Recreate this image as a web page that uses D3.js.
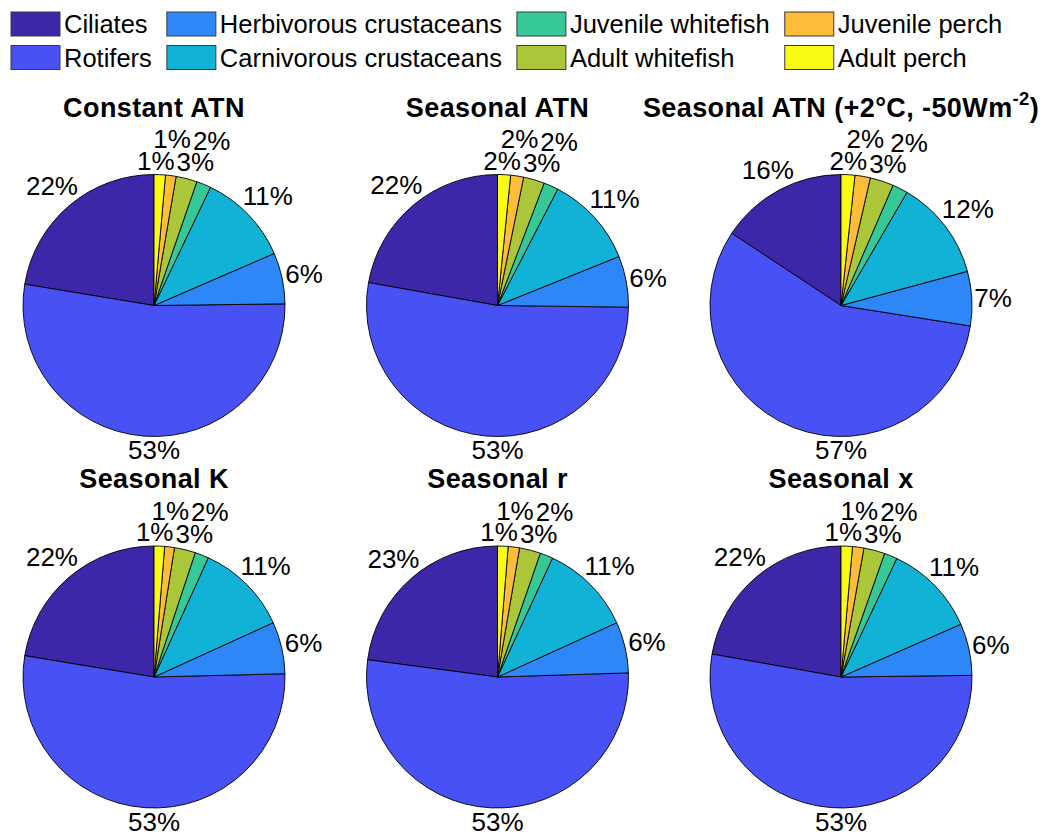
<!DOCTYPE html>
<html>
<head>
<meta charset="utf-8">
<script src="https://cdn.jsdelivr.net/npm/d3@7"></script>
<style>
  body { margin: 0; background: #fff; }
  svg { display: block; }
  text { font-family: "Liberation Sans", Arial, Helvetica, sans-serif; fill: #000; }
</style>
</head>
<body>
<svg id="chart" width="1052" height="836"></svg>
<script>
// Food-web groups, in pie order (counter-clockwise from 12 o'clock)
const groups = ["Ciliates", "Rotifers", "Herbivorous crustaceans", "Carnivorous crustaceans",
                "Juvenile whitefish", "Adult whitefish", "Juvenile perch", "Adult perch"];
const groupColors = ["#3e26a8", "#4852f4", "#2d87f7", "#12b1d6", "#37c897", "#abc739", "#febd38", "#f9fb15"];

// Scenario titles (TeX-style superscript in ^{...})
const scenarioTitles = ["Constant ATN", "Seasonal ATN", "Seasonal ATN (+2°C, -50Wm^{-2})",
                        "Seasonal K", "Seasonal r", "Seasonal x"];

// Share of total biomass (%) per group for each scenario
const constantATN     = [22.4, 52.8, 6.3, 11.4, 1.8, 2.6, 1.3, 1.4];
const seasonalATN     = [22.2, 52.6, 6.3, 11.3, 1.8, 2.6, 1.6, 1.6];
const seasonalATNWarm = [15.7, 56.8, 6.7, 12.4, 1.9, 2.9, 1.9, 1.7];
const seasonalK       = [22.4, 53.0, 6.4, 11.4, 1.7, 2.6, 1.2, 1.3];
const seasonalR       = [22.9, 52.6, 6.3, 11.3, 1.6, 2.6, 1.4, 1.3];
const seasonalX       = [22.2, 53.0, 6.4, 11.4, 1.6, 2.6, 1.4, 1.4];

const scenarioValues = [constantATN, seasonalATN, seasonalATNWarm, seasonalK, seasonalR, seasonalX];

// ---- layout ----
const W = 1052, H = 836;
const radius = 131;
const grid = { x0: 154, dx: 343.5, y0: 305.5, dy: 371.5, cols: 3 };
const labelFont = 26, legendFont = 25.5, titleFont = 27;

const svg = d3.select("#chart");
svg.append("rect").attr("width", W).attr("height", H).attr("fill", "#fff");

const color = d3.scaleOrdinal().domain(groups).range(groupColors);

// ---- legend: 4 columns x 2 rows ----
const legend = svg.append("g").attr("class", "legend");
const box = { w: 49, h: 24, x0: 11, y0: 12, rowPitch: 33.5, textGap: 4, colGap: 15 };
let colX = box.x0;
for (let c = 0; c < 4; c++) {
  let maxW = 0;
  for (let rr = 0; rr < 2; rr++) {
    const i = c * 2 + rr;
    const y = box.y0 + rr * box.rowPitch;
    legend.append("rect")
      .attr("x", colX).attr("y", y).attr("width", box.w).attr("height", box.h)
      .attr("fill", color(groups[i])).attr("stroke", "#3a3a3a").attr("stroke-width", 1);
    const t = legend.append("text")
      .attr("x", colX + box.w + box.textGap)
      .attr("y", y + box.h / 2 + 0.36 * legendFont)
      .attr("font-size", legendFont)
      .text(groups[i]);
    maxW = Math.max(maxW, t.node().getComputedTextLength());
  }
  colX += box.w + box.textGap + maxW + box.colGap;
}

// ---- pies ----
const pie = d3.pie().sort(null).value(d => d).startAngle(0).endAngle(-2 * Math.PI);
const arc = d3.arc().innerRadius(0).outerRadius(radius);

function drawTitle(g, str, x, y) {
  const t = g.append("text")
    .attr("x", x).attr("y", y)
    .attr("text-anchor", "middle")
    .attr("font-weight", "bold")
    .attr("font-size", titleFont)
    .attr("letter-spacing", 0.4);
  const parts = str.split(/\^\{([^}]*)\}/);
  const rise = 0.42 * titleFont;
  let raised = false;
  parts.forEach((p, i) => {
    if (!p) return;
    if (i % 2 === 1) {
      t.append("tspan").attr("dy", -rise).attr("font-size", titleFont * 0.68).text(p);
      raised = true;
    } else {
      t.append("tspan").attr("dy", raised ? rise : 0).text(p);
      raised = false;
    }
  });
}

// Percent labels sit just outside the rim; crowded neighbours are lifted
// onto a second row and nudged apart sideways.
function placeLabels(g, arcs, total) {
  const gap = 4, inkH = 0.72 * labelFont, step = 0.83 * labelFont, pad = 6;
  const items = arcs.map(a => {
    const txt = Math.round(a.value / total * 100) + "%";
    const t = g.append("text")
      .attr("text-anchor", "middle")
      .attr("font-size", labelFont)
      .text(txt);
    const w = t.node().getComputedTextLength() - 4;
    let mid = (a.startAngle + a.endAngle) / 2;
    const lo = Math.min(a.startAngle, a.endAngle), hi = Math.max(a.startAngle, a.endAngle);
    if (hi - lo > Math.PI && lo <= -Math.PI && hi >= -Math.PI) mid = -Math.PI;
    const ux = Math.sin(mid), uy = -Math.cos(mid);
    const support = Math.abs(ux) * w / 2 + Math.abs(uy) * inkH / 2;
    const d = radius + gap + support;
    return { t, w, x: ux * d, y: uy * d, bumped: false };
  });

  const order = items.slice().reverse();
  for (let k = 1; k < order.length; k++) {
    const cur = order[k], prev = order[k - 1];
    const overlapX = Math.abs(cur.x - prev.x) < (cur.w + prev.w) / 2;
    const overlapY = Math.abs(cur.y - prev.y) < inkH;
    if (!prev.bumped && overlapX && overlapY) {
      cur.y = prev.y + Math.sign(prev.y || -1) * step;
      cur.bumped = true;
    }
  }
  for (let it = 0; it < 20; it++) {
    for (let a = 0; a < items.length; a++) {
      for (let b = a + 1; b < items.length; b++) {
        const A = items[a], B = items[b];
        if (Math.abs(A.y - B.y) >= inkH) continue;
        const need = (A.w + B.w) / 2 + pad;
        const dist = Math.abs(A.x - B.x);
        if (dist < need) {
          const push = (need - dist) / 2, s = A.x <= B.x ? -1 : 1;
          A.x += s * push; B.x -= s * push;
        }
      }
    }
  }
  items.forEach(it => it.t.attr("x", it.x).attr("y", it.y + 0.36 * labelFont));
}

scenarioValues.forEach((vals, k) => {
  const cx = grid.x0 + (k % grid.cols) * grid.dx;
  const cy = grid.y0 + Math.floor(k / grid.cols) * grid.dy;
  const g = svg.append("g").attr("transform", `translate(${cx},${cy})`);
  const arcs = pie(vals);
  const total = d3.sum(vals);

  g.selectAll("path.slice")
    .data(arcs)
    .join("path")
    .attr("class", "slice")
    .attr("d", arc)
    .attr("fill", (d, i) => color(groups[i]))
    .attr("stroke", "#000")
    .attr("stroke-width", 0.9)
    .attr("stroke-linejoin", "round");

  placeLabels(g, arcs, total);
  drawTitle(g, scenarioTitles[k], 0, -radius - 58);
});
</script>
</body>
</html>
